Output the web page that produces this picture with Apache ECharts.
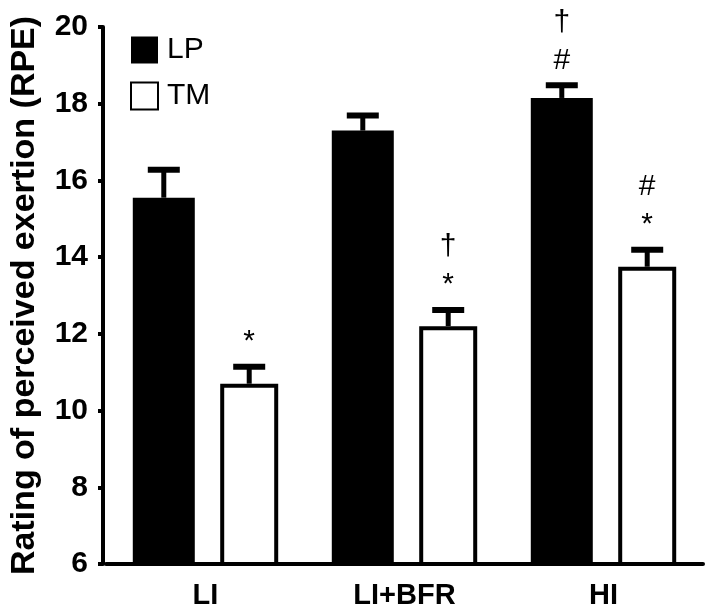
<!DOCTYPE html>
<html>
<head>
<meta charset="utf-8">
<script src="https://cdn.jsdelivr.net/npm/echarts@6/dist/echarts.min.js"></script>
<style>
  html, body { margin: 0; padding: 0; background: #fff; }
  #rpe_chart { width: 709px; height: 610px; }
</style>
</head>
<body>
<div id="rpe_chart"></div>
<script>
var categories = ['LI', 'LI+BFR', 'HI'];
var lpMeans = [15.55, 17.3, 18.15];
var lpErrors = [0.73, 0.39, 0.33];
var tmMeans = [10.7, 12.2, 13.75];
var tmErrors = [0.44, 0.42, 0.44];
// significance marks, listed top to bottom
var lpMarks = [[], [], ['†', '#']];
var tmMarks = [['*'], ['†', '*'], ['#', '*']];
var yMin = 6, yMax = 20, yStep = 2;

var FONT = 'Liberation Sans, Arial, sans-serif';
var LP_W = 62, TM_W = 58, GAP = 0.41;

// same placement echarts uses for side by side bars
var total = LP_W * (1 + GAP) + TM_W;
var lpOffset = -total / 2 + LP_W / 2;
var tmOffset = -total / 2 + LP_W * (1 + GAP) + TM_W / 2;

function errorBars(offset, marks) {
    return function (params, api) {
        var i = api.value(0);
        var m = api.value(1);
        var e = api.value(2);
        var base = api.coord([i, m]);
        var top = api.coord([i, m + e]);
        var x = base[0] + offset;
        var kids = [
            { type: 'line', shape: { x1: x, y1: base[1], x2: x, y2: top[1] },
              style: { stroke: '#000', lineWidth: 5 } },
            { type: 'line', shape: { x1: x - 16, y1: top[1], x2: x + 16, y2: top[1] },
              style: { stroke: '#000', lineWidth: 6 } }
        ];
        var list = marks[i];
        for (var k = 0; k < list.length; k++) {
            var level = list.length - 1 - k;
            kids.push({
                type: 'text',
                style: {
                    text: list[k], x: x, y: top[1] - 25 - level * 38,
                    align: 'center', verticalAlign: 'middle',
                    fontSize: 30, fontFamily: FONT, fill: '#000'
                }
            });
        }
        return { type: 'group', children: kids };
    };
}

function rows(means, errs) {
    var out = [];
    for (var i = 0; i < means.length; i++) out.push([i, means[i], errs[i]]);
    return out;
}

var chart = echarts.init(document.getElementById('rpe_chart'));

chart.setOption({
    animation: false,
    grid: { left: 98, right: 6, top: 27, bottom: 45 },
    legend: {
        data: ['LP', 'TM'],
        orient: 'vertical',
        left: 125, top: 30,
        itemWidth: 27, itemHeight: 27, itemGap: 16,
        icon: 'rect',
        textStyle: { fontSize: 30, fontFamily: FONT, color: '#000', padding: [0, 0, 0, 4] }
    },
    xAxis: {
        type: 'category',
        data: categories,
        axisLine: { lineStyle: { color: '#000', width: 4 } },
        axisTick: { show: false },
        axisLabel: { fontSize: 29, fontWeight: 'bold', fontFamily: FONT, color: '#000', margin: 17 }
    },
    yAxis: {
        type: 'value',
        min: yMin, max: yMax, interval: yStep,
        offset: 3,
        name: 'Rating of perceived exertion (RPE)',
        nameLocation: 'middle',
        nameGap: 61,
        nameTextStyle: { fontSize: 34, fontWeight: 'bold', fontFamily: FONT, color: '#000' },
        splitLine: { show: false },
        axisLine: { show: true, lineStyle: { color: '#000', width: 4 } },
        axisTick: { show: true, length: 5, lineStyle: { color: '#000', width: 4 } },
        axisLabel: { fontSize: 30, fontWeight: 'bold', fontFamily: FONT, color: '#000', margin: 15 }
    },
    series: [
        {
            name: 'LP', type: 'bar', data: lpMeans,
            barWidth: LP_W, barGap: (GAP * 100) + '%',
            itemStyle: { color: '#000', borderColor: '#000', borderWidth: 0 }
        },
        {
            name: 'TM', type: 'bar', data: tmMeans,
            barWidth: TM_W,
            itemStyle: { color: '#fff', borderColor: '#000', borderWidth: 4 }
        },
        {
            type: 'custom', z: 5,
            renderItem: errorBars(lpOffset, lpMarks),
            encode: { x: 0, y: 1 },
            data: rows(lpMeans, lpErrors)
        },
        {
            type: 'custom', z: 5,
            renderItem: errorBars(tmOffset, tmMarks),
            encode: { x: 0, y: 1 },
            data: rows(tmMeans, tmErrors)
        }
    ]
});
</script>
</body>
</html>
